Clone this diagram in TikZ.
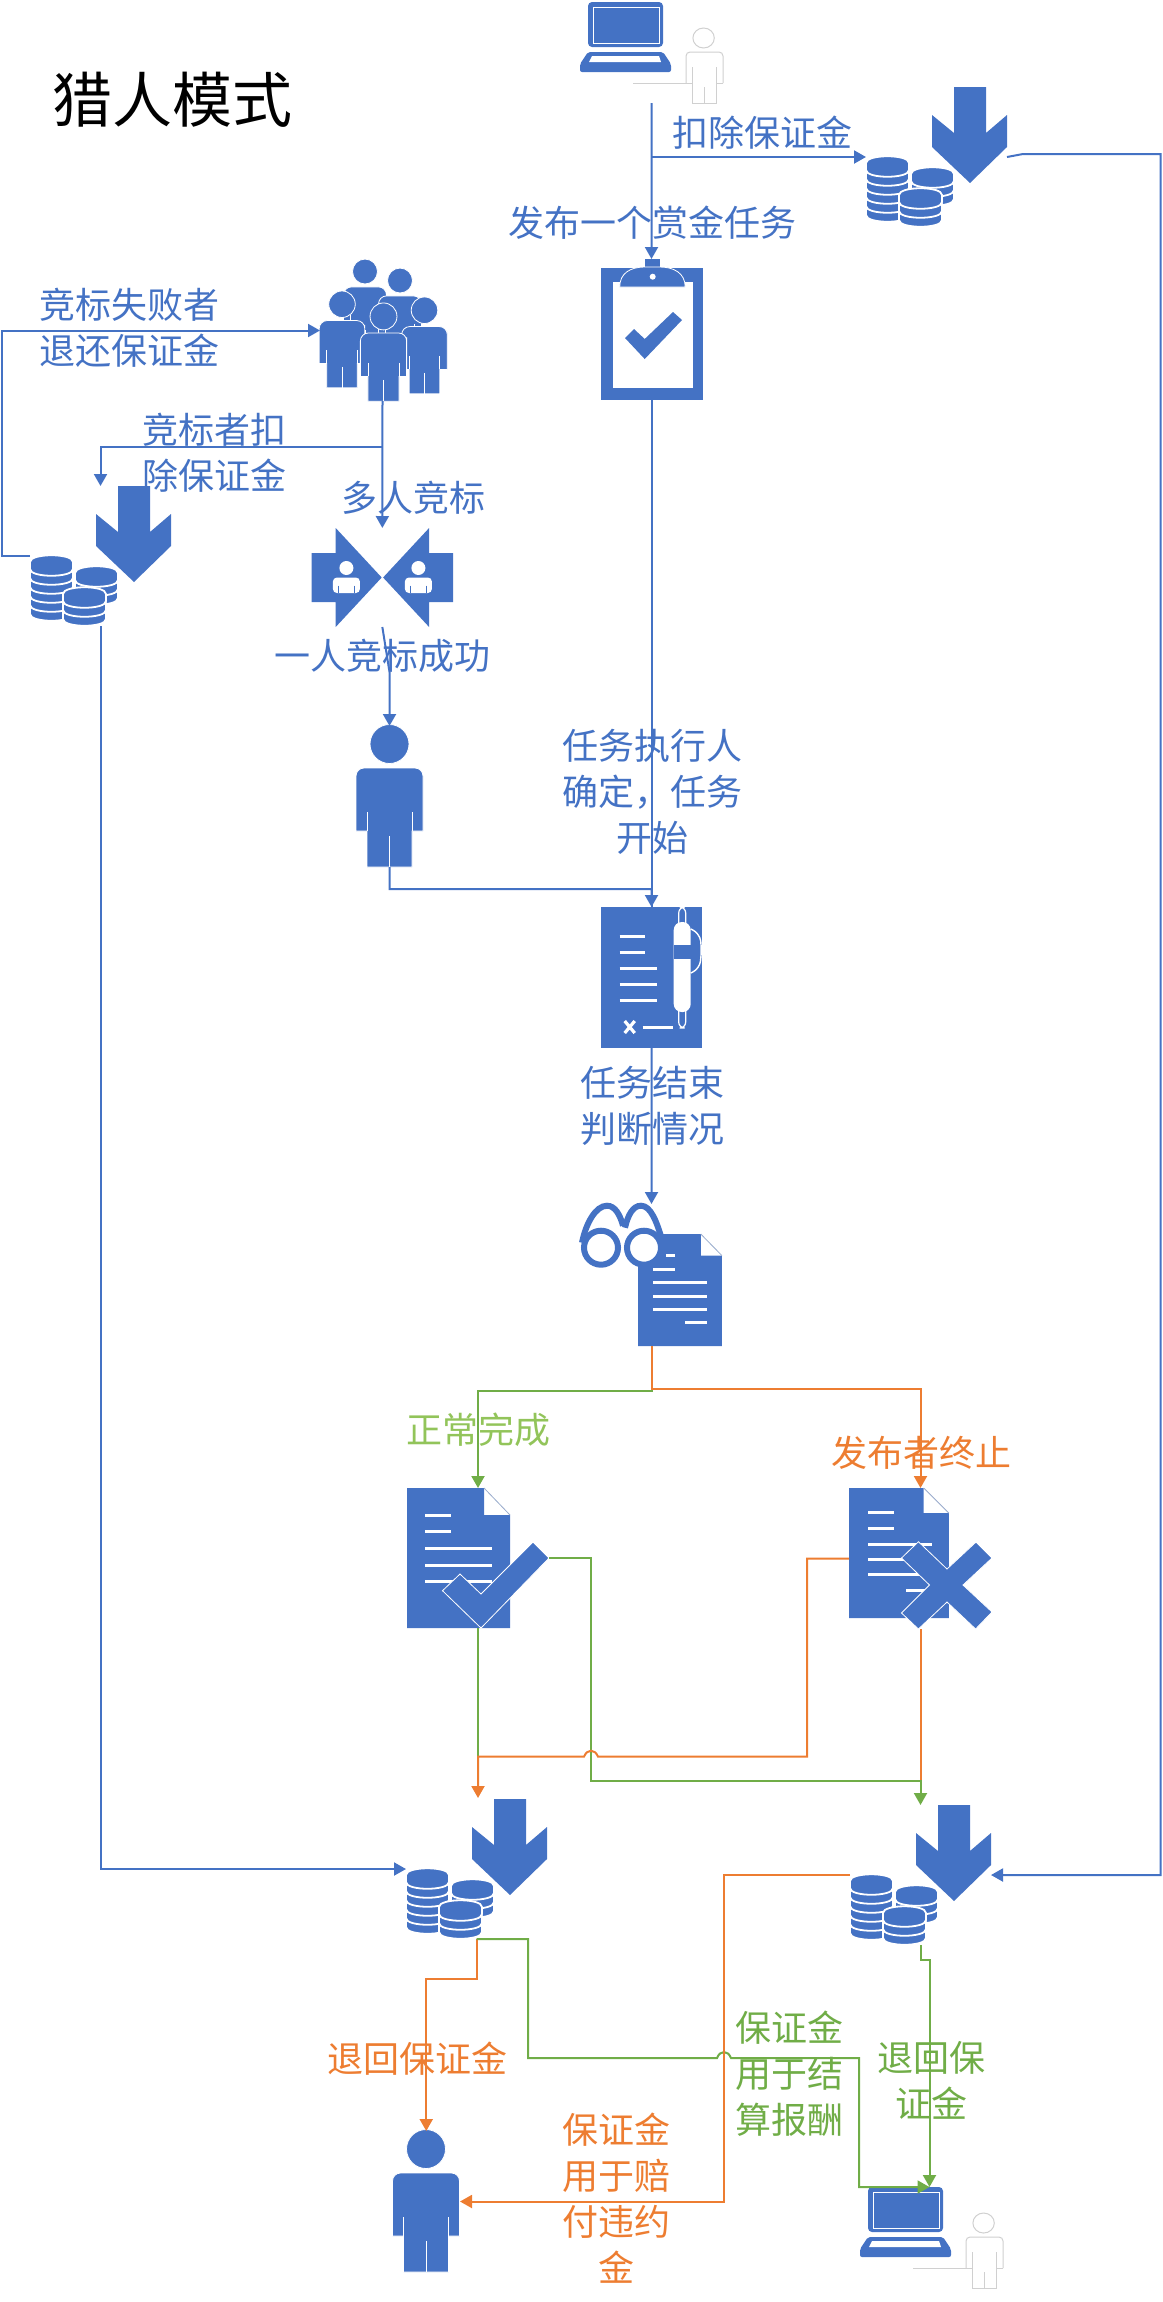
\documentclass[tikz,border=0pt]{standalone}
\usepackage{fontspec}
\setmainfont{Noto Sans CJK SC}
\usepackage{xcolor}
\usepackage{tikz}
\usetikzlibrary{arrows.meta, calc, fit, positioning}
\definecolor{iconblue}{HTML}{4472C4}
\definecolor{linkgreen}{HTML}{70AD47}
\definecolor{linkorange}{HTML}{ED7D31}
\definecolor{palegreen}{HTML}{92C45A}
\definecolor{hairgray}{HTML}{D0D0D0}
\tikzstyle{bluelink} = [iconblue,line width=1pt]
\tikzstyle{greenlink} = [linkgreen,line width=1pt]
\tikzstyle{orangelink} = [linkorange,line width=1pt]
\tikzstyle{bluearrow} = [bluelink,-{Triangle[length=6pt,width=6.5pt]}]
\tikzstyle{greenarrow} = [greenlink,-{Triangle[length=6pt,width=6.5pt]}]
\tikzstyle{orangearrow} = [orangelink,-{Triangle[length=6pt,width=6.5pt]}]
\tikzset{
    solid icon/.style={fill=iconblue,draw=none},
    edged icon/.style={fill=iconblue,draw=white,line width=.4pt},
    whitebar/.style={white,line width=1.5pt},
    pics/stack/.style={code={
        \foreach \k in {#1,...,0}
            \path[fill=iconblue,draw=white,line width=.9pt,shift={(0,9*\k)}] (0,7) -- (0,14) .. controls (0,23) and (43,23) .. (43,14) -- (43,7) .. controls (43,-2) and (0,-2) .. (0,7) -- cycle;
    }},
    pics/coins/.style={code={
        \fill[iconblue] (88,0) -- (120,0) -- (120,46) -- (141,28) -- (141,60) -- (104,96) -- (66,60) -- (66,28) -- (88,46) -- cycle;
        \pic at (45,80) {stack=2};
        \pic at (0,69) {stack=5};
        \pic at (33,101) {stack=2};
    }},
    pics/figure/.style={code={
        \path[edged icon] (0,18) ellipse [x radius=19.5,y radius=19.5];
        \path[edged icon] [rounded corners=4pt] (-33.5,60) -- (-33.5,42) -- (33.5,42) -- (33.5,60) [sharp corners] -- (33.5,105) -- (22.5,105) -- (22.5,141) -- (-22.5,141) -- (-22.5,105) -- (-33.5,105) -- cycle;
        \draw[white,line width=.4pt] (0,110) -- (0,141) (-22.5,86) -- (-22.5,105) (22.5,86) -- (22.5,105);
    }},
    pics/laptop/.style={code={
        \fill[iconblue,rounded corners=2pt] (8,45) -- (8,0) -- (83,0) -- (83,45) -- cycle;
        \draw[white,line width=.5pt] (13,5) rectangle (79,41);
        \fill[iconblue,rounded corners=1pt] (0,70) -- (0,62) -- (8,50) -- (83,50) -- (91,62) -- (91,70) -- cycle;
        \fill[white] (9,60) -- (12,54) -- (79,54) -- (81,60) -- cycle;
        \draw[hairgray,line width=.5pt] (123.6,36) ellipse [x radius=10.7,y radius=10];
        \draw[hairgray,line width=.5pt,rounded corners=2pt] (106,81) -- (106,50) -- (143,50) -- (143,81);
        \draw[hairgray,line width=.5pt] (53,81) -- (112,81) (136,81) -- (143,81) (112,65) -- (112,101) -- (136,101) -- (136,65) (124,85) -- (124,101);
    }},
    pics/paper/.style={code={
        \fill[iconblue] (0,0) -- (77,0) -- (77,27) -- (103,27) -- (103,140) -- (0,140) -- cycle;
        \draw[hairgray!60!iconblue,line width=.4pt] (77,0) -- (103,27);
    }},
}
\begin{document}
\begin{tikzpicture}[
    x=.5pt, y=-.5pt,
    spot/.style={rectangle, inner sep=0pt, outer sep=0pt},
    caption/.style={align=center, inner sep=0pt, font=\fontsize{18}{23}\selectfont},
    bluecap/.style={caption, text=iconblue},
    greencap/.style={caption, text=linkgreen},
    orangecap/.style={caption, text=linkorange}
]
    \useasboundingbox (0,0) rectangle (1162,2302);

    \node[font=\fontsize{30}{36}\selectfont, inner sep=0pt] (title) at (172.5,100) {猎人模式};
    \node[bluecap] (deposit) at (762,133) {扣除保证金};
    \node[bluecap] (publish) at (652,223) {发布一个赏金任务};
    \node[bluecap] (refund) at (129.5,328) {竞标失败者\\退还保证金};
    \node[bluecap] (charge) at (214,453) {竞标者扣\\除保证金};
    \node[bluecap] (bidding) at (413,498) {多人竞标};
    \node[bluecap] (winbid) at (382.5,656) {一人竞标成功};
    \node[bluecap] (begin) at (652,792) {任务执行人\\确定，任务\\开始};
    \node[bluecap] (finish) at (652,1106) {任务结束\\判断情况};
    \node[caption, text=palegreen] (normal) at (478,1430) {正常完成};
    \node[orangecap] (abort) at (921,1453) {发布者终止};
    \node[orangecap] (backdep) at (417.5,2059) {退回保证金};
    \node[orangecap] (penalty) at (616,2198) {保证金\\用于赔\\付违约\\金};
    \node[greencap] (settle) at (789,2074) {保证金\\用于结\\算报酬};
    \node[greencap] (backpay) at (931,2080) {退回保\\证金};

    \node[spot, fit={(580,2) (671,72)}] (publisher) {};
    \pic at (580,2) {laptop};
    \node[spot, fit={(866,87) (1007,227)}] (coinsa) {};
    \pic at (866,87) {coins};
    \node[spot, fit={(30,486) (171,626)}] (coinsb) {};
    \pic at (30,486) {coins};
    \node[spot, fit={(406,1799) (547,1939)}] (coinsc) {};
    \pic at (406,1799) {coins};
    \node[spot, fit={(850,1805) (991,1945)}] (coinsd) {};
    \pic at (850,1805) {coins};

    \node[spot, fit={(600.7,259) (702.3,400)}] (board) {};
    \begin{scope}[shift={(600.7,268)}]
        \fill[iconblue] (0,0) rectangle (102,132);
        \fill[white] (12,14) rectangle (92.3,120);
        \fill[iconblue] (44,-9) rectangle (59,1);
        \path[edged icon] (19,19) .. controls (19,5) and (30,-1) .. (44,-1) -- (59,-1) .. controls (73,-1) and (84.5,5) .. (84.5,19) -- cycle;
        \fill[white] (52,8.7) circle [radius=3];
        \fill[iconblue] (24.3,70) -- (44,91) -- (81.3,52) -- (72.3,44) -- (44,71) -- (33.3,61) -- cycle;
    \end{scope}

    \node[spot, fit={(320,260) (445,401)}] (crowd) {};
    \pic[scale=.64] at (365,260) {figure};
    \pic[scale=.64] at (400,269) {figure};
    \pic[scale=.68] at (342,292) {figure};
    \pic[scale=.68] at (424.5,298) {figure};
    \pic[scale=.69] at (383.5,304) {figure};

    \node[spot, fit={(311.7,528) (453,627)}] (duel) {};
    \foreach \side in {1,-1} {
        \begin{scope}[shift={(382.4,577.5)}, xscale=\side]
            \fill[iconblue] (-70.7,-24.5) -- (-46.7,-24.5) -- (-46.7,-49.5) -- (-.7,0) -- (-46.7,49.5) -- (-46.7,24.5) -- (-70.7,24.5) -- cycle;
            \fill[white] (-36,-9.5) ellipse [x radius=7,y radius=7];
            \fill[white, rounded corners=2pt] (-49.5,15.5) -- (-49.5,0) -- (-22.5,0) -- (-22.5,15.5) -- cycle;
            \draw[iconblue, line width=.3pt] (-44,8) -- (-44,15.5) (-28,8) -- (-28,15.5);
        \end{scope}
    }

    \node[spot, fit={(356,726) (423,867)}] (hunter) {};
    \pic at (389.5,726) {figure};

    \node[spot, fit={(600.7,907) (702.3,1048)}] (contract) {};
    \begin{scope}[shift={(600.7,907)}]
        \fill[iconblue] (0,0) rectangle (101.6,141);
        \draw[whitebar] (19,29) -- (44,29) (19,45) -- (44,45) (19,61) -- (56,61) (19,77) -- (56,77) (19,93) -- (56,93) (42,120) -- (72,120);
        \draw[white, line width=1.6pt] (24,114) -- (34,126) (34,114) -- (24,126);
        \draw[white, line width=.6pt, fill=iconblue, rounded corners=3pt] (78,0) rectangle (85,121);
        \fill[white, rounded corners=4pt] (73,15) rectangle (90,105);
        \draw[white, line width=.7pt, rounded corners=4pt] (90,22) -- (99,26) -- (101,42) -- (99,62) -- (90,66);
        \fill[iconblue] (73,38) rectangle (97,52);
    \end{scope}

    \node[spot, fit={(581,1204) (722,1346)}] (review) {};
    \begin{scope}[shift={(638,1234)}]
        \pic[xscale=.815, yscale=.8] at (0,0) {paper};
        \draw[whitebar] (28,21.7) -- (37,21.7) (15,35) -- (37,35) (15,48) -- (69,48) (15,62) -- (69,62) (15,75) -- (69,75) (47,88) -- (69,88);
    \end{scope}
    \begin{scope}[shift={(601,1247.7)}, iconblue, line width=3pt]
        \draw (-19,-5) .. controls (-15,-25) and (-5,-42) .. (6,-42) .. controls (14,-42) and (19,-33) .. (22,-22);
        \draw (24,-20) .. controls (27,-33) and (32,-42) .. (40,-42) .. controls (50,-42) and (56,-25) .. (61,-8);
        \draw[fill=white] (0,0) circle [radius=17];
        \draw[fill=white] (43,0) circle [radius=17];
    \end{scope}

    \node[spot, fit={(407,1488) (549,1628)}] (okdoc) {};
    \begin{scope}[shift={(407,1488)}]
        \pic at (0,0) {paper};
        \draw[whitebar] (18,27) -- (44,27) (18,43.7) -- (44,43.7) (18,60) -- (84.5,60) (18,77) -- (84.5,77) (18,93.7) -- (84.5,93.7);
        \path[edged icon] (126,54) -- (142,70) -- (74,140) -- (35.5,102.7) -- (53,86) -- (74,106) -- cycle;
    \end{scope}

    \node[spot, fit={(849,1488) (992,1629)}] (stopdoc) {};
    \begin{scope}[shift={(849,1488)}]
        \pic[xscale=.97, yscale=.93] at (0,0) {paper};
        \draw[whitebar] (19,24.7) -- (45,24.7) (19,40) -- (45,40) (19,56) -- (82.6,56) (19,71) -- (82.6,71) (19,86.7) -- (82.6,86.7) (57,102) -- (76,102);
        \path[edged icon] (127,54) -- (143,70) -- (114,97) -- (143,124) -- (126.6,141) -- (98,114) -- (69.4,141) -- (52.5,125) -- (80.5,97) -- (52.5,70) -- (69.4,53.7) -- (98,81) -- cycle;
    \end{scope}

    \node[spot, fit={(392.5,2131) (460,2272)}] (worker) {};
    \pic at (426,2131) {figure};
    \node[spot, fit={(860,2187) (951,2257)}] (owner) {};
    \pic at (860,2187) {laptop};

    \coordinate (pubout) at (651.5,103);
    \coordinate (pubfork) at (651.5,157);
    \coordinate (join) at (651.5,889);
    \coordinate (feeout) at (1023,154);
    \coordinate (feeedge) at (1160.5,154);
    \coordinate (crowdfork) at (382.5,446.7);
    \coordinate (duelbend) at (389.5,672);
    \coordinate (okturn) at (651.5,1390.7);
    \coordinate (stopturn) at (651.5,1389);
    \coordinate (okjoin) at (478,1756.7);
    \coordinate (okpool) at (478,1798);
    \coordinate (stopjoin) at (920.5,1780.7);
    \coordinate (stopbend) at (807,1756.7);
    \coordinate (jumpa) at (598,1756.7);
    \coordinate (jumpb) at (584,1756.7);
    \coordinate (okbend) at (591,1558);
    \coordinate (paybend) at (528,2058);
    \coordinate (jumpc) at (717,2058);
    \coordinate (jumpd) at (731,2058);
    \coordinate (payedge) at (859,2058);
    \coordinate (ownerin) at (929.5,2187);
    \coordinate (finebend) at (724,2201.5);

    \draw[bluearrow] (pubout) -- (board.north);
    \draw[bluearrow] (pubfork) -- (coinsa.west);
    \draw[bluelink] (board.south) -- (contract.north);
    \draw[bluearrow] (coinsa.east) -- (feeout) -- (feeedge) |- (coinsd.east);
    \draw[bluearrow] (coinsb.west) -- ++(-28.5,0) |- (crowd.west);
    \draw[bluearrow] (crowdfork) -| (coinsb.north);
    \draw[bluearrow] (crowd.south) -- (duel.north);
    \draw[bluearrow] (duel.south) -- (duelbend) -- (hunter.north);
    \draw[bluearrow] (hunter.south) |- (join) -- (contract.north);
    \draw[bluearrow] (contract.south) -- (review.north);
    \draw[bluearrow] (coinsb.south) |- (coinsc.west);

    \draw[greenarrow] (review.south) -- (okturn) -| (okdoc.north);
    \draw[orangearrow] (review.south) -- (stopturn) -| (stopdoc.north);
    \draw[greenlink] (okdoc.south) -- (okjoin);
    \draw[orangelink] (stopdoc.south) -- (stopjoin);
    \draw[greenarrow] (okdoc.east) -- (okbend) |- (stopjoin) -- (coinsd.north);
    \draw[orangearrow] (stopdoc.west) -| (stopbend) -- (jumpa) .. controls +(-3,-8) and +(3,-8) .. (jumpb) -- (okjoin) -- (okpool);

    \draw[orangearrow] (coinsc.south) -- ++(0,40) -| (worker.north);
    \draw[greenarrow] (coinsc.south) -- ++(51.5,0) |- (jumpc) .. controls +(3,-8) and +(-3,-8) .. (jumpd) -- (payedge) |- (ownerin);
    \draw[orangearrow] (coinsd.west) -| (finebend) -- (worker.east);
    \draw[greenarrow] (coinsd.south) -- ++(0,15) -| (ownerin);
\end{tikzpicture}
\end{document}
